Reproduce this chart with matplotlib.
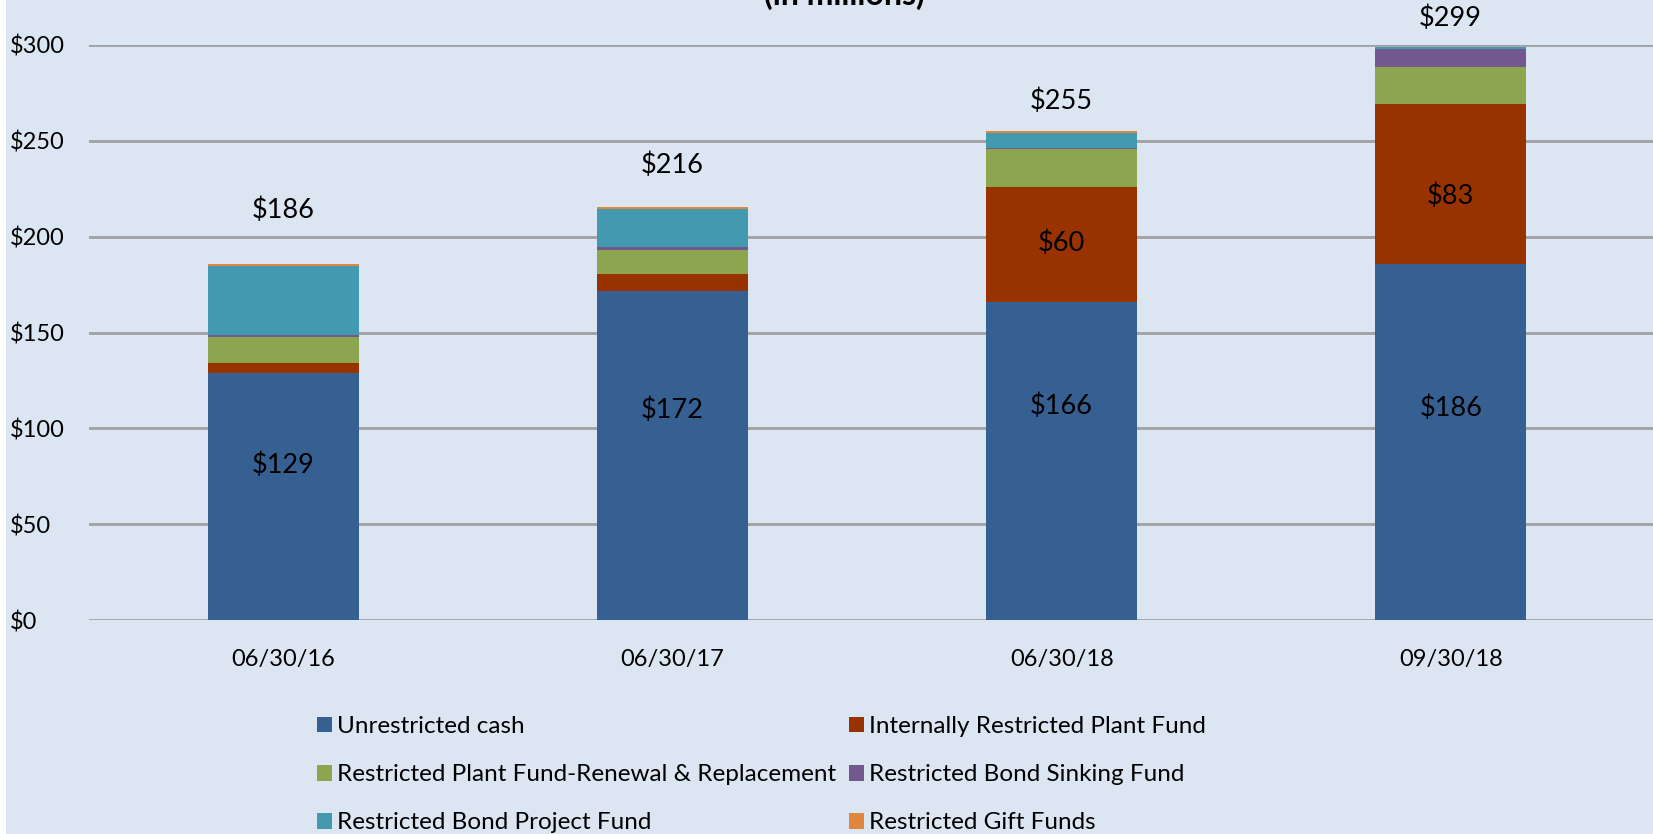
import matplotlib
matplotlib.use("Agg")
import matplotlib.pyplot as plt
import numpy as np
from matplotlib.patches import Patch, Rectangle

plt.rcParams['font.family'] = ['Lato', 'DejaVu Sans']

categories = ["06/30/16", "06/30/17", "06/30/18", "09/30/18"]
series_names = [
    "Unrestricted cash",
    "Internally Restricted Plant Fund",
    "Restricted Plant Fund-Renewal & Replacement",
    "Restricted Bond Sinking Fund",
    "Restricted Bond Project Fund",
    "Restricted Gift Funds",
]
unrestricted = [129, 171.5, 166, 186]
internal_plant = [4.9, 8.8, 60, 83]
renewal = [13.7, 13.0, 19.7, 19.7]
sinking = [1.2, 1.1, 0.8, 9.2]
bond_project = [35.7, 19.8, 7.8, 0.8]
gift = [1.5, 1.5, 0.9, 0.3]
totals = ["$186", "$216", "$255", "$299"]
unrestricted_labels = ["$129", "$172", "$166", "$186"]
internal_labels = [None, None, "$60", "$83"]
yticks = [0, 50, 100, 150, 200, 250, 300]

# label anchor heights (data units), as placed in the original chart
total_label_y = [213.6, 237.2, 270.8, 313.8]
unrestricted_label_y = [80.9, 109.5, 111.7, 110.6]
internal_label_y = [None, None, 196.5, 221.3]

colors = ["#366092", "#983300", "#8BA64F", "#72588F", "#4299B0", "#E0873F"]
bg = "#DCE6F2"

W, H = 1653, 834
fig = plt.figure(figsize=(W / 100, H / 100), dpi=100)
fig.patch.set_facecolor("white")
fig.patches.append(Rectangle((6 / W, 0), 1, 1, transform=fig.transFigure,
                             facecolor=bg, edgecolor="none", zorder=-10))

ax = fig.add_axes([89 / W, 1 - 620 / H, (W - 89) / W, (620 - 45) / H])
ax.set_facecolor("none")
x = np.arange(len(categories))
series = [unrestricted, internal_plant, renewal, sinking, bond_project, gift]
bottom = np.zeros(len(categories))
for vals, c, name in zip(series, colors, series_names):
    ax.bar(x, vals, width=0.388, bottom=bottom, color=c, edgecolor="none",
           label=name, zorder=3)
    bottom = bottom + np.array(vals)

lbl_kw = dict(ha="center", va="center", fontsize=19.5, color="black", zorder=5,
              clip_on=False)
for i in range(len(categories)):
    ax.text(x[i], unrestricted_label_y[i], unrestricted_labels[i], **lbl_kw)
    if internal_labels[i]:
        ax.text(x[i], internal_label_y[i], internal_labels[i], **lbl_kw)
    ax.text(x[i], total_label_y[i], totals[i], **lbl_kw)

ax.set_xlim(-0.5, 3.52)
ax.set_ylim(0, 300)
ax.set_yticks(yticks)
ax.set_yticklabels([f"${v}" for v in yticks])
ax.set_xticks(x)
ax.set_xticklabels(categories)
ax.tick_params(axis="both", length=0, labelsize=17, colors="black")
ax.tick_params(axis="x", pad=21)
for lab in ax.get_yticklabels():
    lab.set_horizontalalignment("left")
    lab.set_x(-89 / (W - 89) + 10 / (W - 89))
ax.yaxis.set_tick_params(pad=0)
ax.grid(axis="y", color="#A0A0A0", linewidth=2, zorder=0)
for s in ax.spines.values():
    s.set_visible(False)

fig.text(844 / W, 1 - 5 / H, "(in millions)", ha="center", va="baseline",
         fontsize=23, fontweight="bold", color="black")

handles = [Patch(facecolor=c, edgecolor="none") for c in colors]
order = [0, 2, 4, 1, 3, 5]
leg = fig.legend([handles[k] for k in order], [series_names[k] for k in order],
                 ncol=2, loc="upper left", bbox_to_anchor=(317 / W, 1 - 716 / H),
                 frameon=False, fontsize=17.5, handlelength=0.62, handleheight=0.62,
                 handletextpad=0.22, columnspacing=0.5, labelspacing=1.12,
                 borderaxespad=0, borderpad=0)

fig.savefig("out.png", dpi=100, facecolor=fig.get_facecolor())
